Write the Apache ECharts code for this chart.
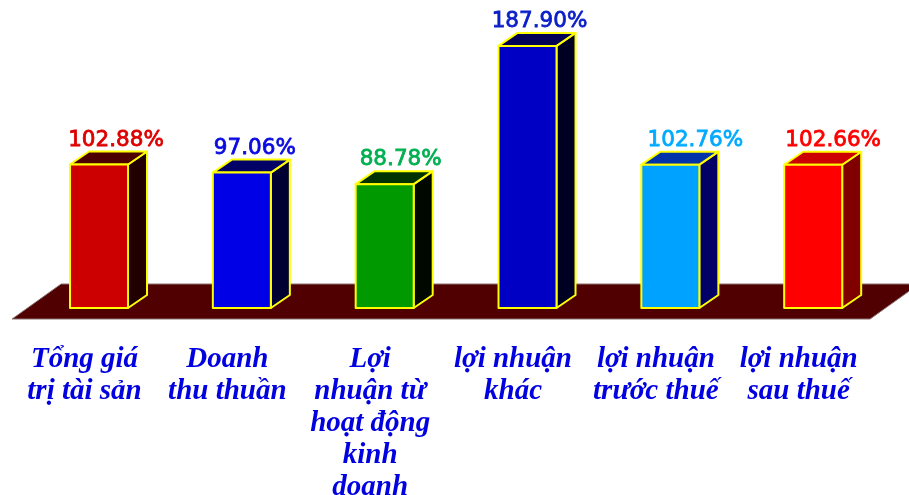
<!DOCTYPE html>
<html><head><meta charset="utf-8">
<style>html,body{margin:0;padding:0;background:#fff}#c{width:909px;height:495px}</style>
<script src="https://cdn.jsdelivr.net/npm/echarts@6/dist/echarts.min.js"></script>
</head><body><div id="c"></div>
<script>
const categories = ["Tổng giá\ntrị tài sản","Doanh\nthu thuần","Lợi\nnhuận từ\nhoạt động\nkinh\ndoanh","lợi nhuận\nkhác","lợi nhuận\ntrước thuế","lợi nhuận\nsau thuế"];
const values = [102.88,97.06,88.78,187.90,102.76,102.66];
const frontColors = ["#cc0000","#0000e6","#009900","#0000c4","#00a2ff","#ff0000"];
const sideColors = ["#220000","#000033","#000800","#000022","#000066","#800000"];
const topColors = ["#4d0000","#000066","#003300","#000055","#0033aa","#cc0000"];
const labelColors = ["#dd0000","#0a0ae0","#00b050","#0a1ec8","#00aaff","#ff0000"];
const labelShift = [17,13,16,12,25,20];

const DX = 19, DY = 13, YEL = "#ffff00";
function renderBar(params, api){
  const i = params.dataIndex;
  const top = api.coord([api.value(0), api.value(1)]);
  const base = api.coord([api.value(0), 0]);
  const w = 58, l = top[0]-w/2, r = l+w, t = top[1], b = base[1];
  const st = c => ({fill:c, stroke:YEL, lineWidth:2, lineJoin:"round"});
  return {type:"group", children:[
    {type:"polygon", shape:{points:[[r,t],[r+DX,t-DY],[r+DX,b-DY],[r,b]]}, style:st(sideColors[i])},
    {type:"polygon", shape:{points:[[l,t],[l+DX,t-DY],[r+DX,t-DY],[r,t]]}, style:st(topColors[i])},
    {type:"rect", shape:{x:l,y:t,width:w,height:b-t}, style:st(frontColors[i])},
    {type:"text", style:{text:values[i].toFixed(2)+"%", x:top[0]+labelShift[i], y:t-24.5, align:"center", verticalAlign:"middle",
      font:"21.5px 'DejaVu Sans'", fill:labelColors[i], stroke:labelColors[i], lineWidth:0.8}}
  ]};
}
function renderFloor(params, api){
  const cs = params.coordSys;
  const base = cs.y+cs.height, L = cs.x, R = cs.x+cs.width;
  return {type:"group", children:[
    {type:"polygon", shape:{points:[[L-15.5,base+11],[R-14.5,base+11],[R+34.5,base-24],[L+33.5,base-24]]},
     style:{fill:"#500000", stroke:"#8a7070", lineWidth:1}}
  ]};
}
const chart = echarts.init(document.getElementById("c"), null, {renderer:"canvas"});
chart.setOption({
  animation:false,
  backgroundColor:"#ffffff",
  grid:{left:27.6, width:857, top:29, height:279, outerBoundsMode:"none", containLabel:false},
  xAxis:{type:"category", data:categories, axisLine:{show:false}, axisTick:{show:false}, splitLine:{show:false},
    axisLabel:{interval:0, margin:36, lineHeight:32, color:"#0000e0", fontFamily:"Liberation Serif", fontStyle:"italic", fontWeight:"bold", fontSize:29, align:"center", hideOverlap:false, padding:[0,29,0,0]}},
  yAxis:{type:"value", min:0, max:200, show:false, splitLine:{show:false}},
  series:[
    {type:"custom", z:1, silent:true, renderItem:renderFloor, data:[[0,0]], encode:{x:0,y:1}, clip:false},
    {type:"custom", z:2, renderItem:renderBar, data:values.map((v,i)=>[i,v]), encode:{x:0,y:1}, clip:false}
  ]
});
</script></body></html>
